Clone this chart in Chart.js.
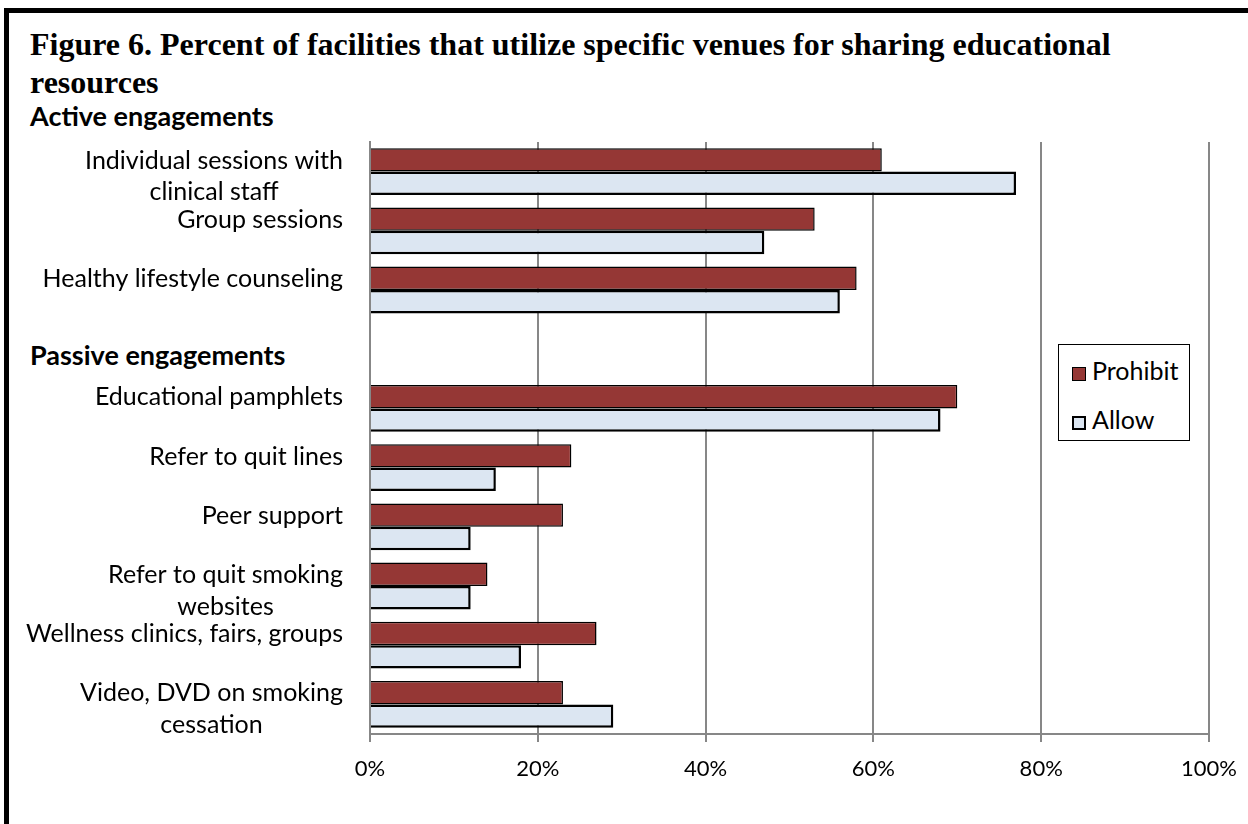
<!DOCTYPE html>
<html>
<head>
<meta charset="utf-8">
<title>Figure 6</title>
<script src="https://cdn.jsdelivr.net/npm/chart.js@4.4.1/dist/chart.umd.min.js"></script>
<style>
  html, body { margin: 0; padding: 0; background: #fff; overflow: hidden; }
  body { width: 1248px; height: 824px; position: relative; font-family: Lato, sans-serif; color: #000; }
  #frame { position: absolute; left: 4px; top: 8px; width: 1400px; height: 1000px; border: 5px solid #000; box-sizing: border-box; }
  #title { position: absolute; left: 30px; top: 25px; font: bold 32px "Liberation Serif", serif; line-height: 38px; white-space: nowrap; }
  .section { position: absolute; left: 30px; font: bold 27px Lato, sans-serif; white-space: nowrap; line-height: 32px; }
  #chartBox { position: absolute; left: 0; top: 0; width: 1248px; height: 824px; }
  #legend { position: absolute; left: 1058px; top: 344px; width: 132px; height: 97px; border: 1.5px solid #000; box-sizing: border-box; background: #fff; }
  #legend .item { position: absolute; left: 13px; height: 28px; font: 25px Lato, sans-serif; line-height: 28px; white-space: nowrap; }
  #legend .swatch { display: inline-block; width: 14px; height: 14px; box-sizing: border-box; vertical-align: -1px; margin-right: 6px; }
</style>
</head>
<body>
<div id="frame"></div>
<div id="title">Figure 6. Percent of facilities that utilize specific venues for sharing educational<br>resources</div>
<div class="section" style="top:100px">Active engagements</div>
<div class="section" style="top:339px">Passive engagements</div>
<div id="chartBox"><canvas id="chart" width="1248" height="824"></canvas></div>
<div id="legend"></div>

<script>
// categories, top to bottom; the empty slot leaves room for the "Passive engagements" heading
var categories = [
  ['Individual sessions with', 'clinical staff'],
  'Group sessions',
  'Healthy lifestyle counseling',
  '',
  'Educational pamphlets',
  'Refer to quit lines',
  'Peer support',
  ['Refer to quit smoking', 'websites'],
  'Wellness clinics, fairs, groups',
  ['Video, DVD on smoking', 'cessation']
];
var prohibitValues = [61, 53, 58, null, 70, 24, 23, 14, 27, 23];
var allowValues = [77, 47, 56, null, 68, 15, 12, 12, 18, 29];
var xTicks = [0, 20, 40, 60, 80, 100];

var gridColor = '#878787';

// Excel-style category labels: right aligned block, wrapped lines centred on each other
var categoryLabels = {
  id: 'categoryLabels',
  afterDraw: function (chart) {
    var ctx = chart.ctx;
    var yScale = chart.scales.y;
    ctx.save();
    ctx.font = '25px Lato';
    ctx.fillStyle = '#000';
    ctx.textAlign = 'center';
    ctx.textBaseline = 'alphabetic';
    chart.data.labels.forEach(function (label, i) {
      var lines = Array.isArray(label) ? label : [label];
      if (!lines[0]) return;
      var widest = Math.max.apply(null, lines.map(function (l) { return ctx.measureText(l).width; }));
      var cx = yScale.right - 27 - widest / 2;
      var base = yScale.getPixelForValue(i) - 3;
      lines.forEach(function (l, k) {
        ctx.fillText(l, cx, base + k * 31.5);
      });
    });
    ctx.restore();
  }
};

var ctx = document.getElementById('chart').getContext('2d');
var chart = new Chart(ctx, {
  type: 'bar',
  data: {
    labels: categories,
    datasets: [
      {
        label: 'Prohibit',
        data: prohibitValues,
        backgroundColor: '#953735',
        borderColor: '#000',
        borderWidth: 1.5
      },
      {
        label: 'Allow',
        data: allowValues,
        backgroundColor: '#DCE6F2',
        borderColor: '#000',
        borderWidth: 2.5
      }
    ]
  },
  options: {
    indexAxis: 'y',
    responsive: false,
    animation: false,
    events: [],
    layout: { padding: { top: 142, right: 39, left: 0, bottom: 0 } },
    datasets: {
      bar: { categoryPercentage: 0.79, barPercentage: 1.0 }
    },
    plugins: {
      legend: { display: false },
      tooltip: { enabled: false },
      title: { display: false }
    },
    scales: {
      x: {
        min: 0,
        max: 100,
        afterBuildTicks: function (scale) {
          scale.ticks = xTicks.map(function (v) { return { value: v }; });
        },
        afterFit: function (scale) {
          scale.height = 90;
          // let the "100%" label hang over the right margin
          scale.paddingLeft = 0;
          scale.paddingRight = 0;
        },
        grid: { color: gridColor, lineWidth: 2, tickLength: 8, drawTicks: true },
        border: { display: true, color: gridColor, width: 2 },
        ticks: {
          padding: 14,
          color: '#000',
          font: { family: 'Lato', size: 22 },
          callback: function (v) { return v + '%'; }
        }
      },
      y: {
        afterFit: function (scale) { scale.width = 370; },
        grid: { display: false },
        border: { display: true, color: gridColor, width: 2 },
        ticks: { display: false }
      }
    }
  },
  plugins: [categoryLabels]
});

// legend box built from the chart's datasets
var legendEl = document.getElementById('legend');
var legendTops = [11, 60];
chart.data.datasets.forEach(function (ds, i) {
  var item = document.createElement('div');
  item.className = 'item';
  item.style.top = legendTops[i] + 'px';
  var sw = document.createElement('span');
  sw.className = 'swatch';
  sw.style.background = ds.backgroundColor;
  sw.style.border = (ds.borderWidth > 2 ? 2.5 : 1.2) + 'px solid ' + ds.borderColor;
  item.appendChild(sw);
  item.appendChild(document.createTextNode(ds.label));
  legendEl.appendChild(item);
});
</script>
</body>
</html>
